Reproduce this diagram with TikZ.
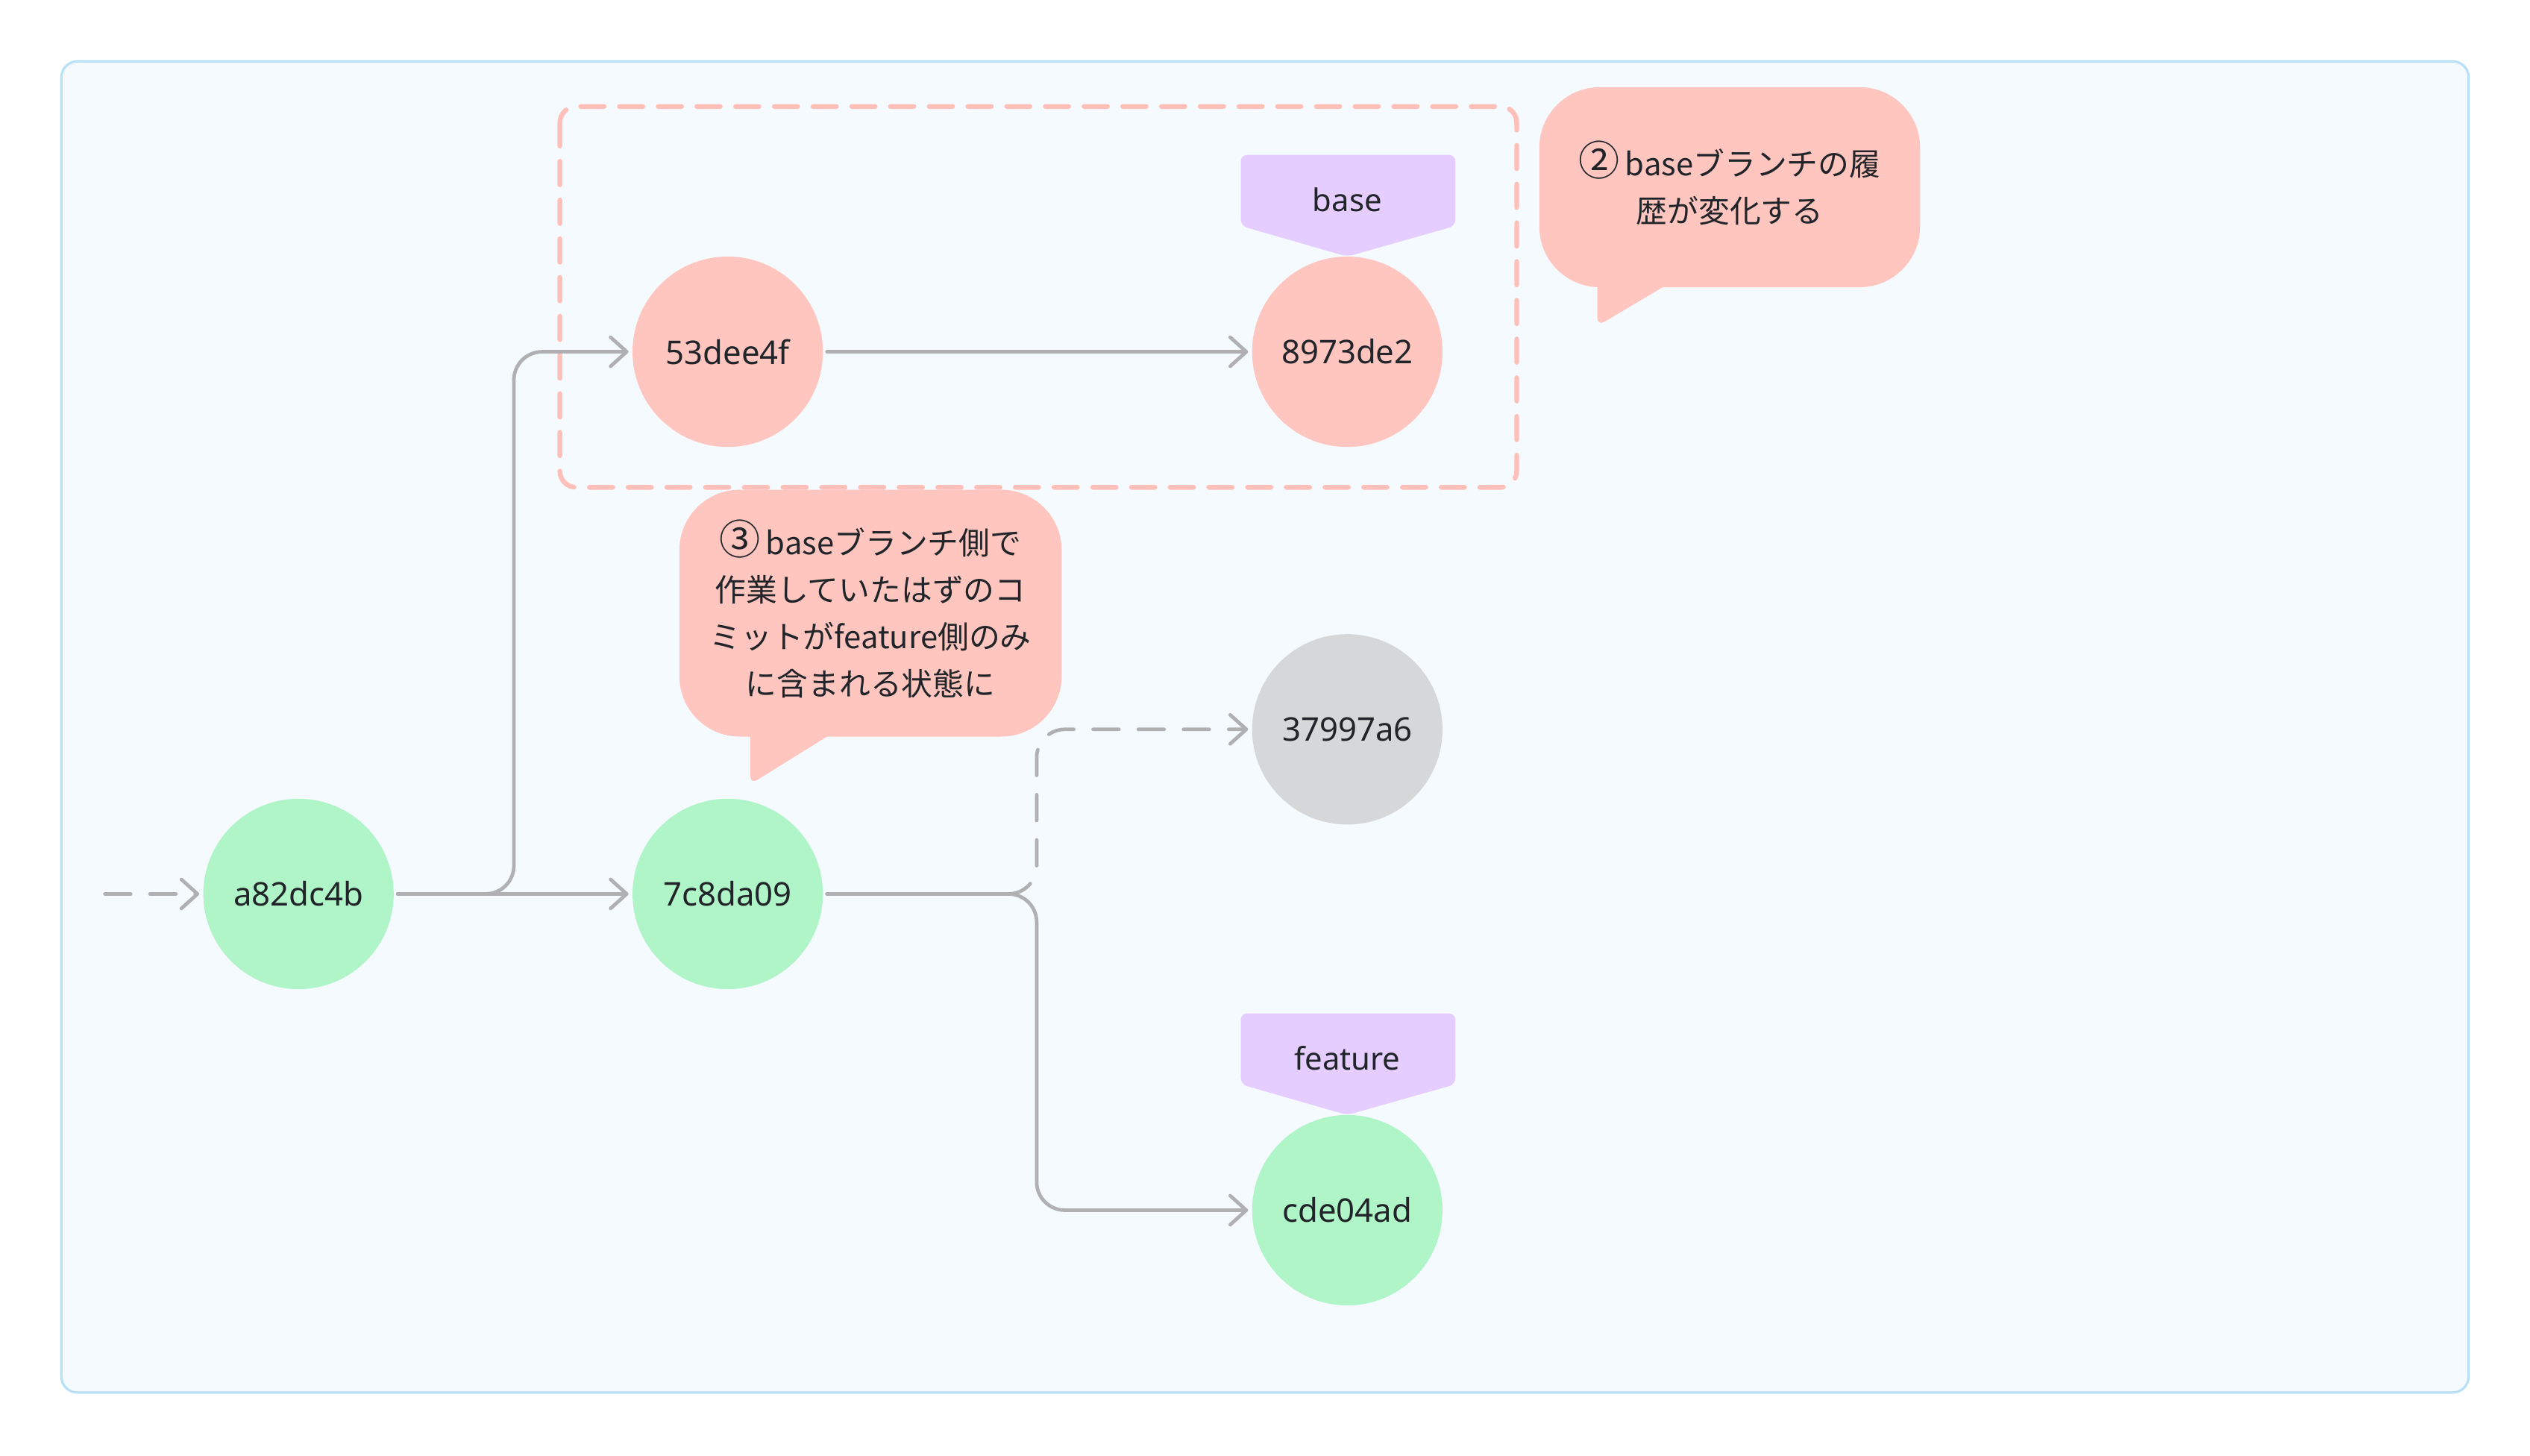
\documentclass[tikz,border=0pt]{standalone}
\usepackage{fontspec}
\setmainfont{Noto Sans}
\newfontfamily\jpfont{Noto Sans CJK JP}
\usetikzlibrary{arrows.meta, positioning, calc}

\definecolor{commitgreen}{RGB}{176,245,200}
\definecolor{commitpink}{RGB}{255,198,192}
\definecolor{commitgray}{RGB}{213,215,217}
\definecolor{tagpurple}{RGB}{229,205,255}
\definecolor{linegray}{RGB}{176,176,178}
\definecolor{boxpink}{RGB}{255,192,186}
\definecolor{framefill}{RGB}{245,250,254}
\definecolor{frameline}{RGB}{184,224,247}
\definecolor{textdark}{RGB}{33,37,41}

\newcommand{\stepnum}[1]{\smash{\fontsize{14.5}{16.6}\selectfont #1}\,}

\begin{document}
\begin{tikzpicture}[x=0.02cm, y=-0.02cm, >={Straight Barb[length=2mm,width=3.6mm,round]},
  commit/.style={circle, minimum size=2.36cm, inner sep=0pt, outer sep=0.05cm, text=textdark, font=\fontsize{11.5}{14}\selectfont},
  gitline/.style={draw=linegray, line width=1.25pt, line cap=round, rounded corners=0.35cm},
  gitdash/.style={gitline, dash pattern=on 0.32cm off 0.24cm},
  tagtext/.style={text=textdark, font=\fontsize{11}{13}\selectfont},
  tagshape/.style={fill=tagpurple, rounded corners=0.08cm},
  note/.style={fill=commitpink, rounded corners=0.75cm, align=center, inner sep=0pt, text=textdark, font=\jpfont\fontsize{11}{16.6}\selectfont},
  notetail/.style={fill=commitpink, rounded corners=0.1cm}]
  \useasboundingbox (0,0) rectangle (1568,902.3);

  % frame and changed range
  \filldraw[fill=framefill, draw=frameline, line width=0.85pt, rounded corners=0.2cm] (38,38) rectangle (1530,863);
  \draw[boxpink, line width=1.7pt, line cap=round, dash pattern=on 0.29cm off 0.19cm, rounded corners=0.2cm] (347,66) rectangle (940,302);

  % branch tags
  \fill[tagshape] (769,96) -- (902,96) -- (902,140) -- (835,159) -- (769,140) -- cycle;
  \node[tagtext] (basetag) at (835,124) {base};
  \fill[tagshape] (769,628) -- (902,628) -- (902,672) -- (835,691) -- (769,672) -- cycle;
  \node[tagtext] (featuretag) at (835,656) {feature};

  % commits
  \node[commit, fill=commitgreen] (a82) at (185,554) {a82dc4b};
  \node[commit, fill=commitgreen] (c7c8) at (451,554) {7c8da09};
  \node[commit, fill=commitpink] (c53d) at (451,218) {53dee4f};
  \node[commit, fill=commitpink] (c897) at (835,218) {8973de2};
  \node[commit, fill=commitgray] (c379) at (835,452) {37997a6};
  \node[commit, fill=commitgreen] (cde0) at (835,750) {cde04ad};

  \coordinate (past) at (65,554);
  \draw[gitdash, ->] (past) -- (a82.west);
  \draw[gitline, ->] (a82) -- (c7c8);
  \draw[gitline, ->] (a82.east) -- ++(72,0) |- (c53d.west);
  \draw[gitline, ->] (c53d) -- (c897);
  \draw[gitdash, ->] (c7c8.east) -- ++(130,0) |- (c379.west);
  \draw[gitline, ->] (c7c8.east) -- ++(130,0) |- (cde0.west);

  % notes
  \node[note, minimum width=4.72cm, minimum height=2.48cm] (note2) at (1072,116) {\stepnum{②}baseブランチの履\\歴が変化する};
  \fill[notetail] (990,170) -- (990,202) -- (1044,170) -- cycle;
  \node[note, minimum width=4.74cm, minimum height=3.06cm] (note3) at (539.5,380) {\stepnum{③}baseブランチ側で\\作業していたはずのコ\\ミットがfeature側のみ\\に含まれる状態に};
  \fill[notetail] (465,445) -- (465,486) -- (531,445) -- cycle;
\end{tikzpicture}
\end{document}
